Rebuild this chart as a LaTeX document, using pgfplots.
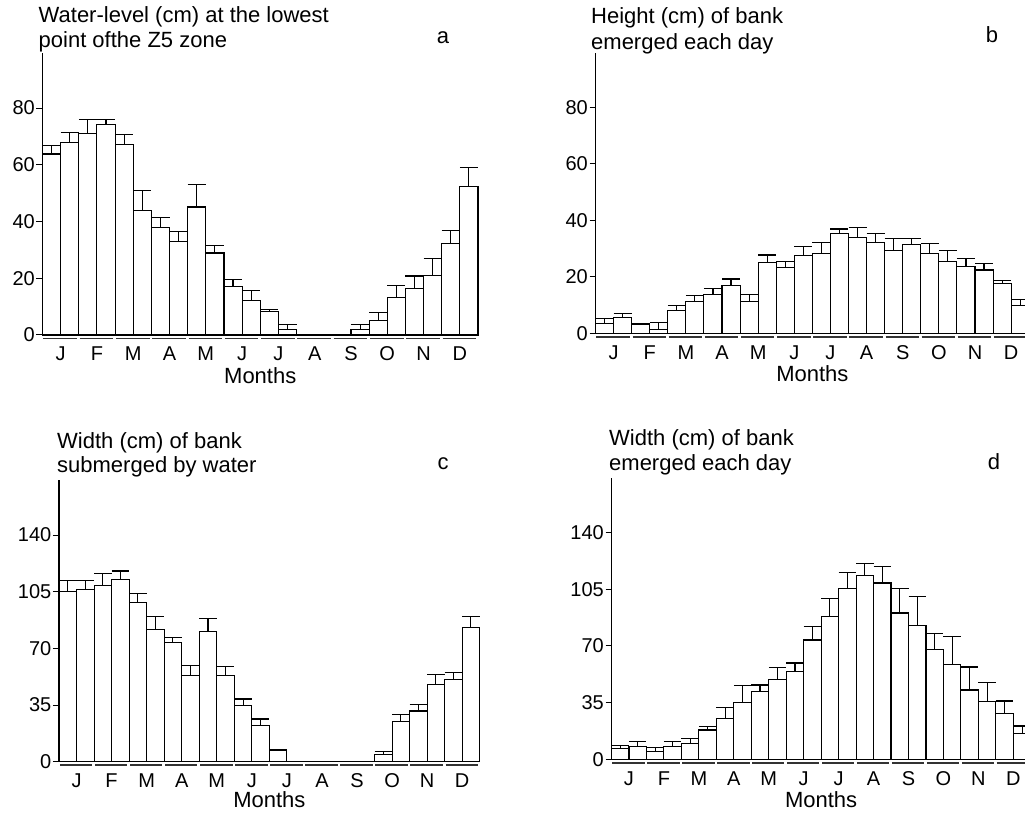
\documentclass[border=0pt]{standalone}
\usepackage{pgfplots}
\pgfplotsset{compat=1.18}
\usepackage{pgfplotstable}
\usepackage{fontspec}
\setmainfont{Liberation Sans}

\pgfplotstableread{
x y e
1 63.8 2.9
2 67.9 3.5
3 71.1 5.0
4 74.2 1.9
5 67.2 3.4
6 44.0 7.0
7 37.9 3.5
8 32.9 3.7
9 45.1 7.9
10 28.9 2.7
11 17.1 2.5
12 12.1 3.7
13 8.2 0.7
14 1.8 2.0
15 0 0
16 0 0
17 0 0
18 1.8 2.0
19 5.1 2.7
20 13.3 4.0
21 16.4 4.4
22 21.1 6.0
23 32.4 4.4
24 52.4 6.5
}\dataA

\pgfplotstableread{
x y e
1 3.5 1.6
2 5.5 1.6
3 3.2 0.3
4 1.5 2.4
5 8.0 1.8
6 11.2 2.1
7 13.8 2.1
8 16.9 2.3
9 11.2 2.6
10 25.0 2.7
11 23.4 2.0
12 27.4 3.3
13 28.3 3.8
14 35.4 1.5
15 34.0 3.5
16 32.2 3.2
17 29.3 4.2
18 31.5 2.0
19 28.3 3.6
20 25.4 3.9
21 23.6 2.9
22 22.4 2.4
23 17.5 1.1
24 9.7 2.3
}\dataB

\pgfplotstableread{
x y e
1 105.0 6.8
2 106.6 5.2
3 109.1 7.0
4 112.4 5.4
5 98.4 5.6
6 81.9 7.9
7 73.5 3.1
8 53.3 6.0
9 80.5 7.8
10 53.5 5.2
11 34.8 3.9
12 22.4 4.0
13 7.2 0.4
14 0 0
15 0 0
16 0 0
17 0 0
18 0 0
19 4.5 1.7
20 25.1 3.9
21 31.3 3.9
22 47.6 6.1
23 50.6 4.6
24 82.8 7.0
}\dataC

\pgfplotstableread{
x y e
1 6.8 1.6
2 7.8 3.1
3 4.7 2.5
4 7.8 3.1
5 9.9 2.7
6 18.1 2.1
7 25.3 6.8
8 35.2 10.3
9 41.8 4.1
10 49.4 7.2
11 54.1 5.4
12 73.7 8.2
13 88.5 10.7
14 105.4 10.1
15 113.4 7.7
16 108.9 10.1
17 90.4 15.2
18 82.6 17.7
19 67.9 9.7
20 58.7 16.9
21 42.8 14.2
22 35.8 11.8
23 28.4 7.6
24 16.1 4.5
}\dataD

\newcommand\titlefont{\fontsize{22}{22}\selectfont}
\newcommand\tickfont{\fontsize{20}{20}\selectfont}

\pgfplotsset{
  panel/.style={
    scale only axis, axis lines*=left, clip=false,
    xmin=0.5, xmax=24.5, ymin=0, enlargelimits=false,
    xtick={1.5,3.5,5.5,7.5,9.5,11.5,13.5,15.5,17.5,19.5,21.5,23.5},
    xticklabels={J,F,M,A,M,J,J,A,S,O,N,D},
    x tick style={draw=none},
    tick align=outside, major tick length=6pt,
    y tick style={line width=1pt, black},
    axis line style={line width=1.2pt},
    xticklabel style={anchor=center, yshift=-13pt, font=\tickfont},
    yticklabel style={font=\tickfont, inner sep=1.5pt},
    /pgf/number format/assume math mode=true,
    xlabel={Months},
    xlabel style={at={(axis description cs:0.5,0)}, anchor=center, yshift=-40.5pt, font=\titlefont},
  },
  bars/.style={ybar, bar width=1, fill=white, draw=black, line width=1.1pt,
    error bars/y dir=plus, error bars/y explicit,
    error bars/error mark=|,
    error bars/error mark options={black, line width=1.1pt, mark size=#1},
    error bars/error bar style={line width=1.1pt, black}},
}

\newcommand\monthlines{%
  \draw[line width=1.8pt, black!80, yshift=-3.5pt]
    (axis cs:0.55,0) -- (axis cs:2.4,0) (axis cs:2.55,0) -- (axis cs:4.4,0)
    (axis cs:4.55,0) -- (axis cs:6.4,0) (axis cs:6.55,0) -- (axis cs:8.4,0)
    (axis cs:8.55,0) -- (axis cs:10.4,0) (axis cs:10.55,0) -- (axis cs:12.4,0)
    (axis cs:12.55,0) -- (axis cs:14.4,0) (axis cs:14.55,0) -- (axis cs:16.4,0)
    (axis cs:16.55,0) -- (axis cs:18.4,0) (axis cs:18.55,0) -- (axis cs:20.4,0)
    (axis cs:20.55,0) -- (axis cs:22.4,0) (axis cs:22.55,0) -- (axis cs:24.4,0);}

\begin{document}
\begin{tikzpicture}
\useasboundingbox (0,0) rectangle (1025pt,812pt);
\clip (0,0) rectangle (1025pt,812pt);

% panel a
\begin{axis}[panel, at={(42.5pt,477pt)}, anchor=south west,
  width=435.5pt, height=282pt, ymax=99.4, ytick={0,20,40,60,80}]
  \addplot[bars=9.07pt] table[x=x, y=y, y error=e] {\dataA};
  \monthlines
\end{axis}
\node[anchor=base west, inner sep=0, font=\titlefont] at (38.5pt,789.5pt) {Water-level (cm) at the lowest};
\node[anchor=base west, inner sep=0, font=\titlefont] at (38.5pt,764pt) {point ofthe Z5 zone};
\node[anchor=base, inner sep=0, font=\titlefont] at (443pt,768pt) {a};

% panel b
\begin{axis}[panel, at={(595.5pt,478.7pt)}, anchor=south west,
  width=433.7pt, height=280pt, ymax=99.1, ytick={0,20,40,60,80}]
  \addplot[bars=9.03pt] table[x=x, y=y, y error=e] {\dataB};
  \monthlines
\end{axis}
\node[anchor=base west, inner sep=0, font=\titlefont] at (591pt,788pt) {Height (cm) of bank};
\node[anchor=base west, inner sep=0, font=\titlefont] at (591pt,762pt) {emerged each day};
\node[anchor=base, inner sep=0, font=\titlefont] at (992pt,769pt) {b};

% panel c
\begin{axis}[panel, at={(59pt,50.3pt)}, anchor=south west,
  width=420.7pt, height=281.7pt, ymax=174, ytick={0,35,70,105,140},
  xlabel style={yshift=3pt}]
  \addplot[bars=8.76pt] table[x=x, y=y, y error=e] {\dataC};
  \monthlines
\end{axis}
\node[anchor=base west, inner sep=0, font=\titlefont] at (57pt,363.7pt) {Width (cm) of bank};
\node[anchor=base west, inner sep=0, font=\titlefont] at (57pt,339pt) {submerged by water};
\node[anchor=base, inner sep=0, font=\titlefont] at (443pt,342pt) {c};

% panel d
\begin{axis}[panel, at={(611.5pt,52.7pt)}, anchor=south west,
  width=419.3pt, height=281pt, ymax=173.6, ytick={0,35,70,105,140}]
  \addplot[bars=8.73pt] table[x=x, y=y, y error=e] {\dataD};
  \monthlines
\end{axis}
\node[anchor=base west, inner sep=0, font=\titlefont] at (609pt,366pt) {Width (cm) of bank};
\node[anchor=base west, inner sep=0, font=\titlefont] at (609pt,341pt) {emerged each day};
\node[anchor=base, inner sep=0, font=\titlefont] at (994pt,342pt) {d};
\end{tikzpicture}
\end{document}
